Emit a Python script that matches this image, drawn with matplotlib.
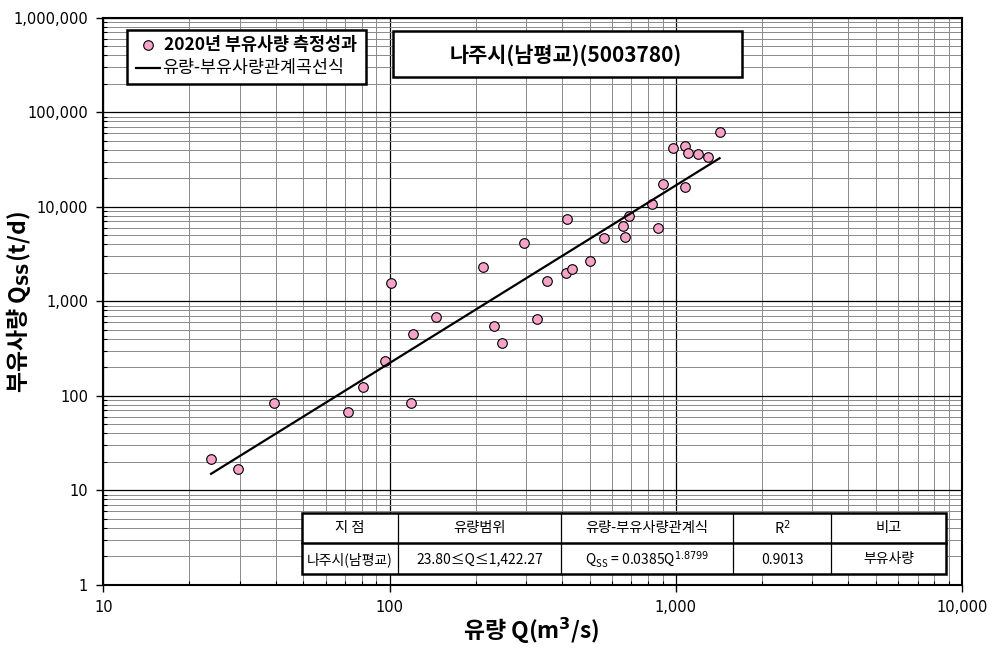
import numpy as np
import matplotlib
matplotlib.use("Agg")
import matplotlib.pyplot as plt
from matplotlib.ticker import LogLocator, FuncFormatter, NullFormatter
from matplotlib.patches import Rectangle

plt.rcParams['font.family'] = ['Noto Sans CJK KR', 'DejaVu Sans']
plt.rcParams['mathtext.fontset'] = 'dejavusans'

# 2020 measurements: discharge Q (m3/s) and suspended load Qss (t/d)
q_obs = [23.8, 29.6, 39.5, 71.7, 80.7, 96.8, 101.1, 118.8, 120.7, 144.8,
         212.6, 231.7, 247.8, 295.8, 327.5, 355.9, 413.9, 417.0, 435.3, 502.0,
         563.5, 654.6, 663.5, 685.4, 826.9, 867.5, 905.8, 976.1, 1078.0, 1078.0,
         1107.0, 1197.0, 1294.0, 1422.27]
qss_obs = [21.2, 16.6, 84.3, 67.7, 124, 233, 1570, 83.2, 450, 686,
           2318, 551, 364, 4159, 643, 1624, 2002, 7413, 2192, 2683,
           4630, 6250, 4813, 7970, 10680, 5904, 17260, 42100, 43900, 16280,
           36730, 35850, 33810, 62200]

# rating curve Qss = a * Q^b over the measured range
coef_a = 0.0385
coef_b = 1.8799
q_range = [23.80, 1422.27]

station = "나주시(남평교)(5003780)"
table_header = ["지 점", "유량범위", "유량-부유사량관계식", "R$^2$", "비고"]
table_row = ["나주시(남평교)", "23.80≤Q≤1,422.27",
             r"Q$_{\mathregular{SS}}$ = 0.0385Q$^{1.8799}$", "0.9013", "부유사량"]

W, H = 999, 651
fig = plt.figure(figsize=(W / 100, H / 100), dpi=100)
L, R, T, B = 103.3, 962, 17.7, 584.7
ax = fig.add_axes([L / W, 1 - B / H, (R - L) / W, (B - T) / H])
ax.set_xscale('log')
ax.set_yscale('log')
ax.set_xlim(10, 10000)
ax.set_ylim(1, 1000000)

for a in (ax.xaxis, ax.yaxis):
    a.set_major_locator(LogLocator(base=10, numticks=20))
    a.set_minor_locator(LogLocator(base=10, subs=np.arange(2, 10), numticks=100))
    a.set_major_formatter(FuncFormatter(lambda v, p: f"{v:,.0f}"))
    a.set_minor_formatter(NullFormatter())

ax.grid(which='minor', color='#8a8a8a', lw=0.7)
ax.grid(which='major', color='black', lw=0.9)
ax.set_axisbelow(True)
for s in ax.spines.values():
    s.set_linewidth(1.5)
ax.tick_params(which='major', direction='out', length=5, width=1, labelsize=10.5, pad=6)
ax.tick_params(which='minor', direction='in', length=3, width=0.8)
for lab in ax.get_xticklabels() + ax.get_yticklabels():
    lab.set_family('DejaVu Sans')

ax.scatter(q_obs, qss_obs, s=48, facecolor='#f5a3c7', edgecolor='black', linewidths=0.8, zorder=3)
q_fit = np.array(q_range)
ax.plot(q_fit, coef_a * q_fit ** coef_b, color='black', lw=1.6, zorder=4)

fig.text(531 / W, 1 - 631 / H, "유량 Q(m$^\\mathbf{3}$/s)", fontsize=16.5, fontweight='bold',
         ha='center', va='center')
fig.text(19 / W, 1 - 302 / H, "부유사량 Q$_{\\mathbf{SS}}$(t/d)", fontsize=16.5, fontweight='bold',
         ha='center', va='center', rotation=90)


def px(x, y):
    return (x - L) / (R - L), (B - y) / (B - T)


def box(x0, y0, x1, y1, lw=1.8):
    a0 = px(x0, y1)
    a1 = px(x1, y0)
    ax.add_patch(Rectangle(a0, a1[0] - a0[0], a1[1] - a0[1], transform=ax.transAxes,
                           facecolor='white', edgecolor='black', lw=lw, zorder=6, clip_on=False))


# legend
box(127, 30, 366, 84)
ax.scatter(*px(148, 45), s=48, facecolor='#f5a3c7', edgecolor='black', linewidths=0.8,
           transform=ax.transAxes, zorder=7, clip_on=False)
ax.text(*px(164, 45), "2020년 부유사량 측정성과", transform=ax.transAxes, fontsize=12.5,
        fontweight='bold', va='center', ha='left', zorder=7)
ax.plot([px(136, 0)[0], px(160, 0)[0]], [px(0, 68)[1]] * 2, color='black', lw=1.6,
        transform=ax.transAxes, zorder=7, clip_on=False)
ax.text(*px(162, 68), "유량-부유사량관계곡선식", transform=ax.transAxes, fontsize=12.5,
        va='center', ha='left', zorder=7)

# station title
box(393, 31, 742, 77)
ax.text(*px(566, 55), station, transform=ax.transAxes, fontsize=15, fontweight='bold',
        va='center', ha='center', zorder=7)

# table
cols = [302, 398, 561, 733, 831, 946]
ty0, tym, ty1 = 513, 543, 574
box(cols[0], ty0, cols[-1], ty1, lw=1.8)
for c in cols[1:-1]:
    ax.plot([px(c, 0)[0]] * 2, [px(0, ty0)[1], px(0, ty1)[1]], color='black', lw=0.9,
            transform=ax.transAxes, zorder=7, clip_on=False)
ax.plot([px(cols[0], 0)[0], px(cols[-1], 0)[0]], [px(0, tym)[1]] * 2, color='black', lw=1.8,
        transform=ax.transAxes, zorder=7, clip_on=False)
for i in range(5):
    cx = (cols[i] + cols[i + 1]) / 2
    ax.text(*px(cx, (ty0 + tym) / 2), table_header[i], transform=ax.transAxes, fontsize=10.3,
            va='center', ha='center', zorder=8)
    ax.text(*px(cx, (tym + ty1) / 2 + 1), table_row[i], transform=ax.transAxes, fontsize=10.0,
            va='center', ha='center', zorder=8)

fig.savefig("out.png", dpi=100)
